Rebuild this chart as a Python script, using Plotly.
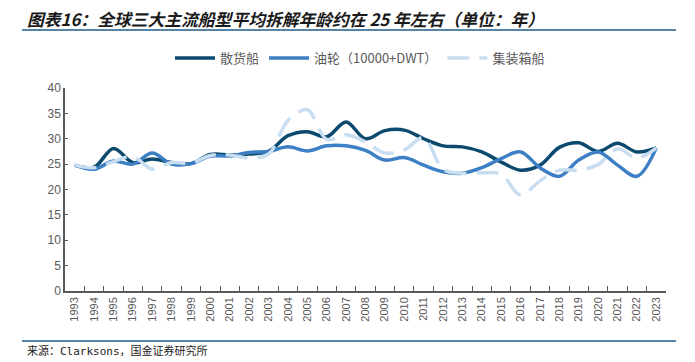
import plotly.graph_objects as go

years = [str(y) for y in range(1993, 2024)]

bulk = [24.8, 24.4, 28.1, 25.3, 26.0, 25.3, 25.1, 26.9, 26.8, 27.0, 27.5,
        30.6, 31.4, 30.4, 33.3, 30.0, 31.6, 31.7, 30.0, 28.6, 28.4, 27.4,
        25.4, 23.8, 24.8, 28.3, 29.2, 27.5, 29.1, 27.4, 28.2]

tanker = [24.8, 24.0, 25.6, 25.0, 27.2, 25.0, 25.1, 26.6, 26.6, 27.3, 27.5,
          28.4, 27.6, 28.6, 28.6, 27.7, 25.8, 26.3, 24.8, 23.5, 23.2, 24.3,
          26.1, 27.4, 24.3, 22.6, 25.8, 27.4, 24.8, 22.6, 28.2]

container = [24.8, 24.3, 25.5, 26.5, 24.0, 25.3, 25.2, 26.7, 26.8, 26.2, 27.0,
             33.6, 35.7, 29.9, 30.8, 29.4, 27.2, 27.8, 30.2, 24.0, 23.2, 23.3,
             23.0, 18.9, 21.7, 23.8, 23.8, 24.9, 28.0, 26.2, 28.2]

names = ["散货船", "油轮（10000+DWT）", "集装箱船"]
title_text = "图表16：全球三大主流船型平均拆解年龄约在 25 年左右（单位：年）"
source_text = "来源：Clarksons，国金证券研究所"

colors = ["#0b4a6e", "#3d7fc4", "#c9ddf1"]

fig = go.Figure()
fig.add_trace(go.Scatter(x=years, y=bulk, name=names[0], mode="lines",
                         line=dict(color=colors[0], width=3.5, shape="spline", smoothing=1.0)))
fig.add_trace(go.Scatter(x=years, y=tanker, name=names[1], mode="lines",
                         line=dict(color=colors[1], width=3.5, shape="spline", smoothing=1.0)))
fig.add_trace(go.Scatter(x=years, y=container, name=names[2], mode="lines",
                         line=dict(color=colors[2], width=3.5, shape="spline", smoothing=1.0,
                                   dash="22px,10px")))

L, R, T, B = 65, 29, 88, 71
W, H = 695, 362
pw, ph = W - L - R, H - T - B


def px(x):
    return (x - L) / pw


def py(y):
    return (H - B - y) / ph


fig.update_layout(
    width=W, height=H,
    margin=dict(l=L, r=R, t=T, b=B, autoexpand=False),
    paper_bgcolor="white", plot_bgcolor="white",
    font=dict(family="Liberation Sans, Noto Sans CJK SC", color="#595959"),
    showlegend=True,
    legend=dict(orientation="h", x=px(360), xanchor="center", y=py(58), yanchor="middle",
                font=dict(size=13, color="#595959", family="Noto Sans CJK SC"),
                itemwidth=40, tracegroupgap=0, bgcolor="rgba(0,0,0,0)"),
    xaxis=dict(type="category", range=[-0.5, 30.5], showline=True, linecolor="#595959",
               linewidth=1.5, ticks="inside", ticklen=5, tickcolor="#595959",
               tickson="boundaries", tickangle=-90, showgrid=False, automargin=False,
               tickfont=dict(size=11, color="#595959", family="Liberation Sans")),
    yaxis=dict(range=[0, 40], dtick=5, showline=True, linecolor="#595959", linewidth=1.5,
               ticks="inside", ticklen=3, tickcolor="#595959", showgrid=False, zeroline=False,
               automargin=False,
               tickfont=dict(size=12, color="#595959", family="Liberation Sans")),
    shapes=[
        dict(type="line", xref="paper", yref="paper", x0=px(22), x1=px(676), y0=py(30), y1=py(30),
             line=dict(color="#1f5a8a", width=1.5)),
        dict(type="line", xref="paper", yref="paper", x0=px(22), x1=px(676), y0=py(341), y1=py(341),
             line=dict(color="#1f5a8a", width=1.5)),
    ],
    annotations=[
        dict(text="<b><i>" + title_text + "</i></b>", xref="paper", yref="paper",
             x=px(25), y=py(19), xanchor="left", yanchor="middle", showarrow=False,
             font=dict(size=16.8, color="#1a1a1a", family="Noto Sans CJK SC")),
        dict(text=source_text, xref="paper", yref="paper",
             x=px(25), y=py(351), xanchor="left", yanchor="middle", showarrow=False,
             font=dict(size=11, color="#1a1a1a", family="DejaVu Sans Mono, Noto Sans CJK SC")),
    ],
)

fig.write_html("out.html", config={"displayModeBar": False},
               post_script="document.body.style.margin='0';document.body.style.overflow='hidden';")
